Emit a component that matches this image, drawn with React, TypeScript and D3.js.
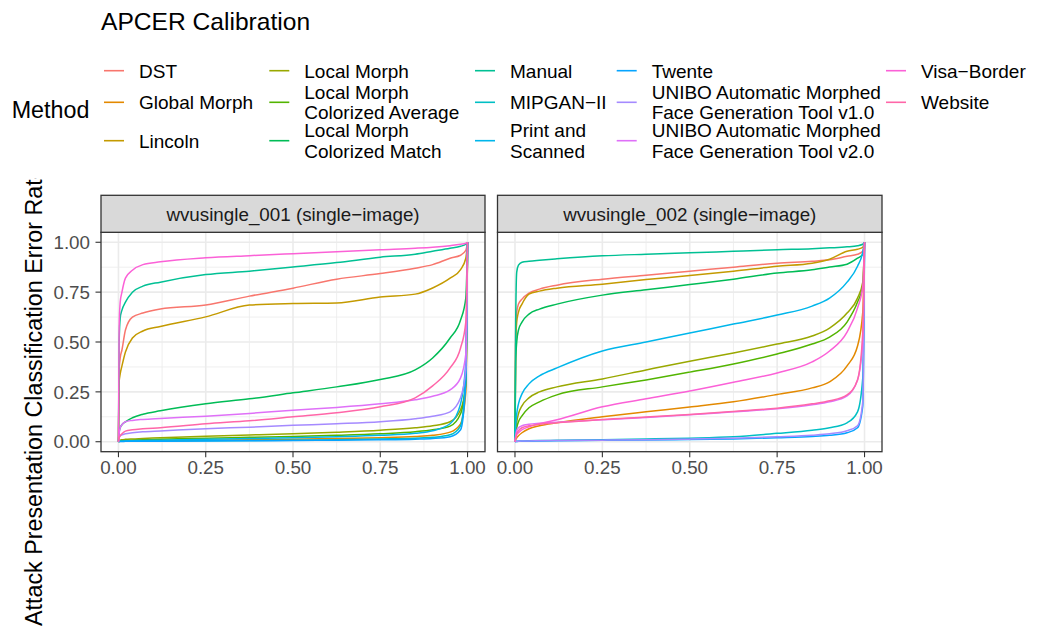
import React from "react";
import * as d3 from "d3";

// ---------------- data ----------------
const methods = [
  "DST",
  "Global Morph",
  "Lincoln",
  "Local Morph",
  "Local Morph\nColorized Average",
  "Local Morph\nColorized Match",
  "Manual",
  "MIPGAN−II",
  "Print and\nScanned",
  "Twente",
  "UNIBO Automatic Morphed\nFace Generation Tool v1.0",
  "UNIBO Automatic Morphed\nFace Generation Tool v2.0",
  "Visa−Border",
  "Website",
];
const colors = [
  "#F8766D", "#E38900", "#C49A00", "#99A800", "#53B400", "#00BC56", "#00C094",
  "#00BFC4", "#00B6EB", "#06A4FF", "#A58AFF", "#DF70F8", "#FB61D7", "#FF66A8",
];
const panelTitles = ["wvusingle_001 (single−image)", "wvusingle_002 (single−image)"];
const tickValues = [0, 0.25, 0.5, 0.75, 1];
const tickLabels = ["0.00", "0.25", "0.50", "0.75", "1.00"];
const minorValues = [0.125, 0.375, 0.625, 0.875];

const xGrid = [0, 0.002, 0.005, 0.01, 0.02, 0.04, 0.07, 0.12, 0.25, 0.375, 0.5, 0.625, 0.75, 0.85, 0.9, 0.95, 0.98, 0.995, 1];

// wvusingle_001
const a_DST = [0, 0.36, 0.42, 0.46, 0.56, 0.625, 0.645, 0.665, 0.685, 0.73, 0.77, 0.815, 0.843, 0.87, 0.888, 0.92, 0.935, 0.96, 1];
const a_Global = [0, 0.001, 0.002, 0.002, 0.003, 0.003, 0.004, 0.005, 0.008, 0.01, 0.012, 0.016, 0.02, 0.026, 0.032, 0.048, 0.09, 0.25, 1];
const a_Lincoln = [0, 0.3, 0.34, 0.38, 0.45, 0.52, 0.555, 0.578, 0.626, 0.685, 0.693, 0.696, 0.726, 0.74, 0.771, 0.82, 0.863, 0.92, 1];
const a_Local = [0, 0.005, 0.008, 0.01, 0.012, 0.014, 0.016, 0.02, 0.028, 0.034, 0.04, 0.048, 0.058, 0.07, 0.08, 0.1, 0.16, 0.28, 1];
const a_LocalAvg = [0, 0.003, 0.004, 0.005, 0.006, 0.008, 0.01, 0.012, 0.018, 0.022, 0.026, 0.032, 0.04, 0.05, 0.06, 0.078, 0.14, 0.3, 1];
const a_LocalMatch = [0, 0.05, 0.07, 0.085, 0.1, 0.12, 0.138, 0.155, 0.19, 0.215, 0.245, 0.275, 0.312, 0.36, 0.42, 0.52, 0.61, 0.72, 1];
const a_Manual = [0, 0.5, 0.62, 0.66, 0.7, 0.75, 0.78, 0.8, 0.838, 0.855, 0.876, 0.898, 0.925, 0.94, 0.955, 0.97, 0.98, 0.99, 1];
const a_MIPGAN = [0, 0.001, 0.002, 0.002, 0.003, 0.003, 0.004, 0.004, 0.005, 0.006, 0.008, 0.01, 0.014, 0.018, 0.022, 0.035, 0.08, 0.35, 1];
const a_Print = [0, 0.002, 0.003, 0.003, 0.004, 0.005, 0.006, 0.008, 0.012, 0.016, 0.02, 0.025, 0.032, 0.042, 0.055, 0.09, 0.19, 0.4, 1];
const a_Twente = [0, 0.001, 0.001, 0.001, 0.002, 0.002, 0.002, 0.003, 0.004, 0.005, 0.006, 0.008, 0.01, 0.013, 0.016, 0.025, 0.06, 0.3, 1];
const a_Unibo1 = [0, 0.02, 0.03, 0.035, 0.04, 0.045, 0.05, 0.054, 0.065, 0.073, 0.082, 0.09, 0.1, 0.115, 0.128, 0.15, 0.22, 0.36, 1];
const a_Unibo2 = [0, 0.04, 0.07, 0.085, 0.1, 0.107, 0.112, 0.117, 0.128, 0.142, 0.158, 0.172, 0.19, 0.21, 0.228, 0.26, 0.32, 0.44, 1];
const a_Visa = [0, 0.58, 0.7, 0.75, 0.82, 0.86, 0.888, 0.902, 0.922, 0.933, 0.943, 0.953, 0.963, 0.97, 0.975, 0.983, 0.99, 0.995, 1];
const a_Website = [0, 0.02, 0.03, 0.04, 0.053, 0.06, 0.065, 0.07, 0.09, 0.105, 0.125, 0.145, 0.175, 0.22, 0.28, 0.37, 0.47, 0.6, 1];

// wvusingle_002
const b_DST = [0, 0.55, 0.65, 0.69, 0.715, 0.745, 0.765, 0.785, 0.815, 0.835, 0.855, 0.875, 0.895, 0.905, 0.912, 0.93, 0.94, 0.955, 1];
const b_Global = [0, 0.01, 0.02, 0.03, 0.045, 0.065, 0.08, 0.095, 0.125, 0.15, 0.174, 0.2, 0.237, 0.27, 0.3, 0.38, 0.48, 0.65, 1];
const b_Lincoln = [0, 0.5, 0.6, 0.65, 0.69, 0.74, 0.755, 0.77, 0.79, 0.813, 0.833, 0.855, 0.88, 0.895, 0.915, 0.955, 0.965, 0.975, 1];
const b_Local = [0, 0.06, 0.1, 0.14, 0.18, 0.22, 0.25, 0.275, 0.315, 0.36, 0.404, 0.445, 0.49, 0.53, 0.57, 0.645, 0.72, 0.8, 1];
const b_LocalAvg = [0, 0.04, 0.07, 0.1, 0.13, 0.17, 0.2, 0.235, 0.275, 0.31, 0.349, 0.39, 0.44, 0.49, 0.525, 0.6, 0.7, 0.78, 1];
const b_LocalMatch = [0, 0.4, 0.5, 0.56, 0.6, 0.64, 0.665, 0.69, 0.735, 0.762, 0.788, 0.815, 0.846, 0.862, 0.876, 0.89, 0.92, 0.94, 1];
const b_Manual = [0, 0.6, 0.85, 0.885, 0.9, 0.905, 0.91, 0.917, 0.932, 0.94, 0.947, 0.955, 0.963, 0.968, 0.972, 0.977, 0.983, 0.99, 1];
const b_MIPGAN = [0, 0.001, 0.002, 0.003, 0.004, 0.005, 0.006, 0.007, 0.01, 0.014, 0.018, 0.025, 0.042, 0.058, 0.07, 0.095, 0.15, 0.32, 1];
const b_Print = [0, 0.08, 0.14, 0.19, 0.24, 0.29, 0.33, 0.37, 0.455, 0.5, 0.545, 0.59, 0.635, 0.68, 0.72, 0.8, 0.88, 0.95, 1];
const b_Twente = [0, 0.001, 0.001, 0.002, 0.003, 0.003, 0.004, 0.005, 0.007, 0.009, 0.011, 0.014, 0.02, 0.026, 0.032, 0.045, 0.07, 0.18, 1];
const b_Unibo1 = [0, 0.001, 0.002, 0.003, 0.004, 0.004, 0.005, 0.006, 0.008, 0.01, 0.013, 0.017, 0.025, 0.033, 0.04, 0.055, 0.08, 0.2, 1];
const b_Unibo2 = [0, 0.03, 0.055, 0.07, 0.08, 0.088, 0.093, 0.098, 0.11, 0.122, 0.135, 0.15, 0.165, 0.185, 0.2, 0.23, 0.31, 0.5, 1];
const b_Visa = [0, 0.02, 0.035, 0.045, 0.06, 0.075, 0.09, 0.11, 0.175, 0.215, 0.254, 0.298, 0.345, 0.4, 0.455, 0.55, 0.67, 0.78, 1];
const b_Website = [0, 0.02, 0.04, 0.055, 0.07, 0.08, 0.088, 0.095, 0.112, 0.124, 0.137, 0.152, 0.168, 0.19, 0.205, 0.235, 0.31, 0.55, 1];

const panel001 = [a_DST, a_Global, a_Lincoln, a_Local, a_LocalAvg, a_LocalMatch, a_Manual, a_MIPGAN, a_Print, a_Twente, a_Unibo1, a_Unibo2, a_Visa, a_Website];
const panel002 = [b_DST, b_Global, b_Lincoln, b_Local, b_LocalAvg, b_LocalMatch, b_Manual, b_MIPGAN, b_Print, b_Twente, b_Unibo1, b_Unibo2, b_Visa, b_Website];
const panelData = [panel001, panel002];

// ---------------- layout ----------------
const W = 1048;
const H = 632;
const FONT = "'Liberation Sans', Arial, Helvetica, sans-serif";
const panelXs = [
  [101, 485],
  [497.5, 882],
];
const stripTop = 195.3;
const panelTop = 232.3;
const panelBottom = 451.7;
const legendKeyX = [104, 269.3, 475, 616.7, 886];
const legendRowY = [70.7, 102.3, 140.7];
const legendFs = 19;
const legendLineH = 20.4;

export default function App() {
  const y = d3.scaleLinear().domain([-0.05, 1.05]).range([panelBottom, panelTop]);

  return (
    <svg
      width={W}
      height={H}
      viewBox={`0 0 ${W} ${H}`}
      style={{ position: "absolute", left: 0, top: 0, background: "#fff" }}
      fontFamily={FONT}
    >
      <rect x={0} y={0} width={W} height={H} fill="#fff" />
      {/* title */}
      <text x={101} y={30} fontSize={24.6} fill="#000">
        APCER Calibration
      </text>

      {/* legend */}
      <text x={11.7} y={118.3} fontSize={23.3} fill="#000">
        Method
      </text>
      {methods.map((m, i) => {
        const col = Math.floor(i / 3);
        const row = i % 3;
        const kx = legendKeyX[col];
        const cy = legendRowY[row];
        const lines = m.split("\n");
        const first = cy - ((lines.length - 1) * legendLineH) / 2 + 0.36 * legendFs;
        return (
          <g key={m}>
            <line x1={kx} x2={kx + 20} y1={cy} y2={cy} stroke={colors[i]} strokeWidth={1.6} />
            <text x={kx + 35} fontSize={legendFs} fill="#000">
              {lines.map((l, j) => (
                <tspan key={j} x={kx + 35} y={first + j * legendLineH}>
                  {l}
                </tspan>
              ))}
            </text>
          </g>
        );
      })}

      {/* y axis title (clipped at top as in the reference) */}
      <defs>
        <clipPath id="ytitleclip">
          <rect x={0} y={178} width={90} height={H - 178} />
        </clipPath>
      </defs>
      <g clipPath="url(#ytitleclip)">
        <text transform="translate(41.5,626) rotate(-90)" fontSize={23.3} fill="#000">
          Attack Presentation Classification Error Rate
        </text>
      </g>

      {/* y axis ticks + labels */}
      {tickValues.map((v, i) => (
        <g key={"yt" + i}>
          <line x1={panelXs[0][0] - 5.5} x2={panelXs[0][0]} y1={y(v)} y2={y(v)} stroke="#333333" strokeWidth={1.1} />
          <text x={90} y={y(v)} dy="0.36em" fontSize={18.8} fill="#4D4D4D" textAnchor="end">
            {tickLabels[i]}
          </text>
        </g>
      ))}

      {panelData.map((series, p) => {
        const [x0, x1] = panelXs[p];
        const x = d3.scaleLinear().domain([-0.05, 1.05]).range([x0, x1]);
        const line = d3
          .line<number>()
          .x((_, k) => x(xGrid[k]))
          .y((d) => y(d))
          .curve(d3.curveMonotoneX);
        return (
          <g key={"panel" + p}>
            {/* background */}
            <rect x={x0} y={panelTop} width={x1 - x0} height={panelBottom - panelTop} fill="#fff" />
            {/* minor grid */}
            {minorValues.map((v) => (
              <g key={"mg" + v}>
                <line x1={x(v)} x2={x(v)} y1={panelTop} y2={panelBottom} stroke="#EBEBEB" strokeWidth={0.8} />
                <line x1={x0} x2={x1} y1={y(v)} y2={y(v)} stroke="#EBEBEB" strokeWidth={0.8} />
              </g>
            ))}
            {/* major grid */}
            {tickValues.map((v) => (
              <g key={"Mg" + v}>
                <line x1={x(v)} x2={x(v)} y1={panelTop} y2={panelBottom} stroke="#EBEBEB" strokeWidth={1.6} />
                <line x1={x0} x2={x1} y1={y(v)} y2={y(v)} stroke="#EBEBEB" strokeWidth={1.6} />
              </g>
            ))}
            {/* curves */}
            {series.map((s, i) => (
              <path key={"s" + i} d={line(s) || ""} fill="none" stroke={colors[i]} strokeWidth={1.5} strokeLinejoin="round" />
            ))}
            {/* border */}
            <rect x={x0} y={panelTop} width={x1 - x0} height={panelBottom - panelTop} fill="none" stroke="#333333" strokeWidth={1.3} />
            {/* strip */}
            <rect x={x0} y={stripTop} width={x1 - x0} height={panelTop - stripTop} fill="#D9D9D9" stroke="#333333" strokeWidth={1.3} />
            <text x={(x0 + x1) / 2} y={(stripTop + panelTop) / 2} dy="0.36em" textAnchor="middle" fontSize={18.8} fill="#1A1A1A">
              {panelTitles[p]}
            </text>
            {/* x axis */}
            {tickValues.map((v, i) => (
              <g key={"xt" + i}>
                <line x1={x(v)} x2={x(v)} y1={panelBottom} y2={panelBottom + 5.5} stroke="#333333" strokeWidth={1.1} />
                <text x={x(v)} y={474} textAnchor="middle" fontSize={18.8} fill="#4D4D4D">
                  {tickLabels[i]}
                </text>
              </g>
            ))}
          </g>
        );
      })}
    </svg>
  );
}
